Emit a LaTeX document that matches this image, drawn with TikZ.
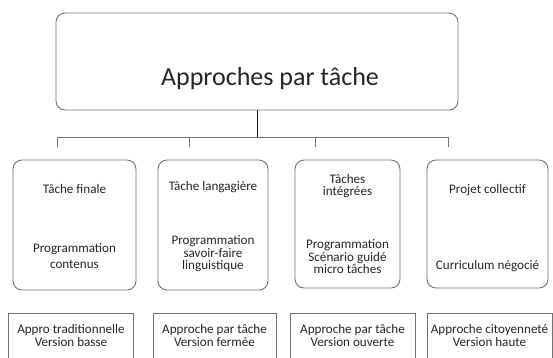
\documentclass[tikz,border=0pt]{standalone}
\usepackage{fontspec}
\setmainfont{Carlito}
\begin{document}
\begin{tikzpicture}[x=1pt,y=-1pt,
  boxline/.style={draw=black!55,line width=0.9pt},
  rbox/.style={boxline,rounded corners=9pt,inner sep=0pt},
  sbox/.style={boxline,inner sep=0pt},
  txt/.style={text=black!85,font=\fontsize{13.1}{13.1}\selectfont,inner sep=0pt,anchor=base},
  conn/.style={draw=black!55,line width=0.9pt}]
\clip (0,0) rectangle (553,357);
\useasboundingbox (0,0) rectangle (553,357);
% top box
\node[rbox,minimum width=402pt,minimum height=97pt] (top) at (257,61.5) {};
\node[txt,font=\fontsize{26}{26}\selectfont] (title) at (270,85) {Approches par tâche};
% connectors
\coordinate (j) at (257,137);
\coordinate (h1) at (57,137);
\coordinate (h2) at (189,137);
\coordinate (h3) at (315,137);
\coordinate (h4) at (448,137);
\coordinate (t1) at (57,147);
\coordinate (t2) at (189,147);
\coordinate (t3) at (315,147);
\coordinate (t4) at (448,147);
\draw[line width=1pt,black!90] (top.south) -- (j);
\draw[conn] (h1) -- (h4);
\draw[conn] (h1) -- (t1);
\draw[conn] (h2) -- (t2);
\draw[conn] (h3) -- (t3);
\draw[conn] (h4) -- (t4);
% middle boxes
\node[rbox,minimum width=123pt,minimum height=130pt] (m1) at (74.5,225) {};
\node[rbox,minimum width=110pt,minimum height=130pt] (m2) at (213,225) {};
\node[rbox,minimum width=105pt,minimum height=128pt] (m3) at (347.5,224) {};
\node[rbox,minimum width=121pt,minimum height=128pt] (m4) at (487.5,224) {};
\node[txt] (m1a) at (74.5,193) {Tâche finale};
\node[txt] (m1b) at (74.5,252) {Programmation};
\node[txt] (m1c) at (74.5,268) {contenus};
\node[txt] (m2a) at (213,190) {Tâche langagière};
\node[txt] (m2b) at (213,244.5) {Programmation};
\node[txt] (m2c) at (213,257) {savoir-faire};
\node[txt] (m2d) at (213,269.5) {linguistique};
\node[txt] (m3a) at (347.5,183) {Tâches};
\node[txt] (m3b) at (347.5,195.5) {intégrées};
\node[txt] (m3c) at (347.5,248.5) {Programmation};
\node[txt] (m3d) at (347.5,261) {Scénario guidé};
\node[txt] (m3e) at (347.5,273.5) {micro tâches};
\node[txt] (m4a) at (487.5,193) {Projet collectif};
\node[txt] (m4b) at (487.5,269) {Curriculum négocié};
% bottom boxes
\node[sbox,minimum width=125pt,minimum height=60pt] (b1) at (70.5,343) {};
\node[sbox,minimum width=123pt,minimum height=60pt] (b2) at (214.5,343) {};
\node[sbox,minimum width=125pt,minimum height=60pt] (b3) at (352.5,343) {};
\node[sbox,minimum width=125pt,minimum height=60pt] (b4) at (489.5,343) {};
\node[txt] (b1t) at (71,333) {Appro traditionnelle};
\node[txt] (b1u) at (71,346) {Version basse};
\node[txt] (b2t) at (214.5,333) {Approche par tâche};
\node[txt] (b2u) at (214.5,346) {Version fermée};
\node[txt] (b3t) at (352.5,333) {Approche par tâche};
\node[txt] (b3u) at (352.5,346) {Version ouverte};
\node[txt] (b4t) at (489.5,333) {Approche citoyenneté};
\node[txt] (b4u) at (489.5,346) {Version haute};
\end{tikzpicture}
\end{document}
